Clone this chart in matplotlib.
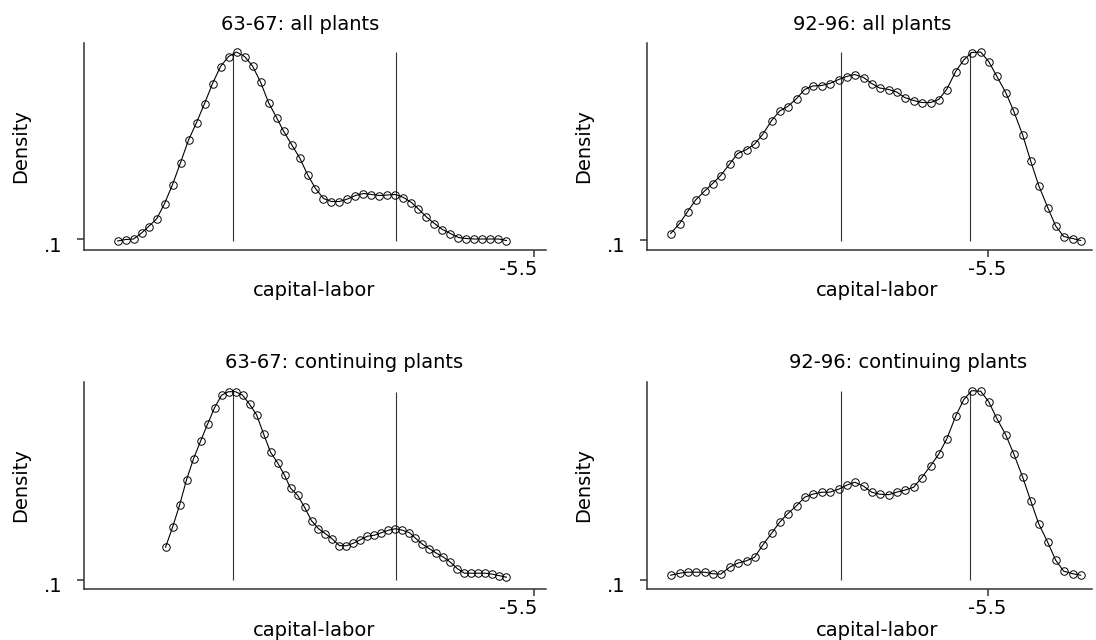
import matplotlib.pyplot as plt
from matplotlib.transforms import ScaledTranslation

plt.rcParams.update({
    "font.family": "DejaVu Sans",
    "font.size": 14,
})

# capital-labor grid points of each density estimate
x_6367_all = [-9.67, -9.59, -9.51, -9.43, -9.36, -9.28, -9.20, -9.12, -9.04, -8.96,
              -8.88, -8.80, -8.72, -8.64, -8.56, -8.48, -8.40, -8.32, -8.24, -8.16,
              -8.08, -8.01, -7.93, -7.85, -7.77, -7.69, -7.61, -7.53, -7.45, -7.37,
              -7.29, -7.21, -7.13, -7.05, -6.97, -6.89, -6.81, -6.73, -6.66, -6.58,
              -6.50, -6.42, -6.34, -6.26, -6.18, -6.10, -6.02, -5.94, -5.86, -5.78]
x_6367_cont = [-9.19, -9.12, -9.05, -8.98, -8.91, -8.84, -8.77, -8.70, -8.63, -8.56,
               -8.49, -8.42, -8.35, -8.28, -8.21, -8.14, -8.07, -8.00, -7.94, -7.87,
               -7.80, -7.73, -7.66, -7.59, -7.52, -7.45, -7.38, -7.31, -7.24, -7.17,
               -7.10, -7.03, -6.96, -6.89, -6.82, -6.75, -6.69, -6.62, -6.55, -6.48,
               -6.41, -6.34, -6.27, -6.20, -6.13, -6.06, -5.99, -5.92, -5.85, -5.78]
x_9296 = [-8.67, -8.58, -8.50, -8.42, -8.33, -8.25, -8.17, -8.08, -8.00, -7.91,
          -7.83, -7.75, -7.66, -7.58, -7.50, -7.41, -7.33, -7.25, -7.16, -7.08,
          -6.99, -6.91, -6.83, -6.74, -6.66, -6.58, -6.49, -6.41, -6.33, -6.24,
          -6.16, -6.07, -5.99, -5.91, -5.82, -5.74, -5.66, -5.57, -5.49, -5.41,
          -5.32, -5.24, -5.15, -5.07, -4.99, -4.90, -4.82, -4.74, -4.65, -4.57]

# density values
y_6367_all = [0.096, 0.099, 0.100, 0.112, 0.125, 0.140, 0.171, 0.209, 0.253, 0.298,
              0.333, 0.371, 0.411, 0.445, 0.465, 0.474, 0.465, 0.446, 0.414, 0.373,
              0.343, 0.316, 0.289, 0.263, 0.229, 0.201, 0.181, 0.175, 0.175, 0.180,
              0.187, 0.191, 0.189, 0.187, 0.188, 0.189, 0.183, 0.173, 0.160, 0.144,
              0.131, 0.119, 0.111, 0.103, 0.101, 0.100, 0.100, 0.100, 0.100, 0.097]
y_9296_all = [0.113, 0.133, 0.157, 0.180, 0.198, 0.213, 0.229, 0.252, 0.273, 0.281,
              0.292, 0.311, 0.339, 0.358, 0.367, 0.383, 0.401, 0.408, 0.409, 0.413,
              0.421, 0.427, 0.431, 0.425, 0.413, 0.404, 0.401, 0.396, 0.385, 0.379,
              0.375, 0.375, 0.381, 0.401, 0.437, 0.460, 0.475, 0.476, 0.457, 0.428,
              0.395, 0.358, 0.310, 0.258, 0.209, 0.165, 0.128, 0.107, 0.103, 0.099]
y_6367_cont = [0.165, 0.205, 0.249, 0.300, 0.342, 0.377, 0.411, 0.444, 0.469, 0.476,
               0.476, 0.469, 0.451, 0.430, 0.392, 0.355, 0.334, 0.309, 0.283, 0.269,
               0.245, 0.218, 0.202, 0.192, 0.181, 0.168, 0.168, 0.173, 0.180, 0.187,
               0.189, 0.194, 0.199, 0.202, 0.199, 0.194, 0.183, 0.171, 0.162, 0.153,
               0.145, 0.135, 0.122, 0.113, 0.113, 0.113, 0.113, 0.111, 0.108, 0.105]
y_9296_cont = [0.109, 0.113, 0.115, 0.115, 0.115, 0.112, 0.111, 0.125, 0.133, 0.138,
               0.145, 0.169, 0.193, 0.215, 0.232, 0.248, 0.265, 0.271, 0.275, 0.275,
               0.281, 0.289, 0.295, 0.287, 0.275, 0.271, 0.270, 0.275, 0.279, 0.285,
               0.304, 0.328, 0.351, 0.381, 0.427, 0.460, 0.478, 0.477, 0.456, 0.423,
               0.390, 0.352, 0.305, 0.258, 0.212, 0.175, 0.139, 0.117, 0.112, 0.109]

# reference lines
vlines_6367 = [-8.52, -6.88]
vlines_9296 = [-6.97, -5.68]

titles = ["63-67: all plants", "92-96: all plants",
          "63-67: continuing plants", "92-96: continuing plants"]

W, H = 1096, 640
fig = plt.figure(figsize=(W / 100, H / 100), dpi=100)


def fx(px):
    return px / W


def fy(py):
    return 1 - py / H


# box (left, top, right, bottom) in px, title / xlabel / ylabel centres in px
panels = [
    (x_6367_all, y_6367_all, vlines_6367, titles[0], (84, 43, 546, 250),
     (-10.006, -5.384), (0.078, 0.492), (300, 24), (314, 290), (21, 146), -16.6),
    (x_9296, y_9296_all, vlines_9296, titles[1], (647, 43, 1092, 250),
     (-8.906, -4.457), (0.080, 0.494), (872, 24), (877, 290), (584, 146), 0),
    (x_6367_cont, y_6367_cont, vlines_6367, titles[2], (84, 382, 546, 589),
     (-10.006, -5.384), (0.0814, 0.4954), (344, 363), (314, 630), (21, 485), -16.6),
    (x_9296, y_9296_cont, vlines_9296, titles[3], (647, 382, 1092, 589),
     (-8.906, -4.457), (0.0814, 0.4954), (908, 363), (877, 630), (584, 485), 0),
]

axis_col = "#333333"

for x, y, vl, title, box, xlim, ylim, tpos, xlpos, ylpos, xshift in panels:
    l, t, r, b = box
    ax = fig.add_axes([fx(l), fy(b), (r - l) / W, (b - t) / H])
    ax.vlines(vl, min(0.1, min(y)), max(y), color=axis_col, lw=0.8)
    ax.plot(x, y, color="black", lw=0.8, marker="o", ms=5.4, mfc="none",
            mec="black", mew=0.7, clip_on=False)
    ax.set_xlim(*xlim)
    ax.set_ylim(*ylim)

    for s in ("top", "right"):
        ax.spines[s].set_visible(False)
    for s in ("left", "bottom"):
        ax.spines[s].set_color(axis_col)
        ax.spines[s].set_linewidth(1.1)

    ax.set_xticks([-5.5])
    ax.set_xticklabels(["-5.5"])
    ax.set_yticks([0.1])
    ax.set_yticklabels([".1"])
    ax.tick_params(direction="out", length=5, width=1.1, color=axis_col)
    ax.tick_params(axis="x", pad=2)
    ax.tick_params(axis="y", pad=10.8)
    for lab in ax.get_xticklabels():
        lab.set_transform(lab.get_transform() +
                          ScaledTranslation(xshift / 100, 0, fig.dpi_scale_trans))
    for lab in ax.get_yticklabels():
        lab.set_transform(lab.get_transform() +
                          ScaledTranslation(0, -5 / 100, fig.dpi_scale_trans))

    fig.text(fx(tpos[0]), fy(tpos[1]), title, ha="center", va="center")
    ax.set_xlabel("capital-labor", va="center")
    ax.xaxis.set_label_coords(fx(xlpos[0]), fy(xlpos[1]), transform=fig.transFigure)
    ax.set_ylabel("Density", va="center")
    ax.yaxis.set_label_coords(fx(ylpos[0]), fy(ylpos[1]), transform=fig.transFigure)

fig.savefig("out.png", dpi=100)
